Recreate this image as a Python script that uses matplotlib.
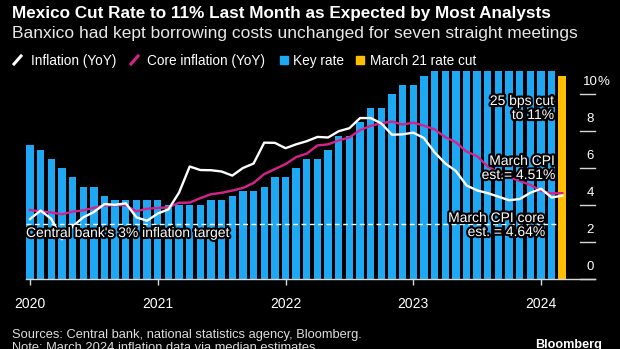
import numpy as np
import matplotlib
matplotlib.use("Agg")
import matplotlib.pyplot as plt
import matplotlib.patheffects as pe
from matplotlib.lines import Line2D
from matplotlib.patches import Rectangle

plt.rcParams['font.family'] = ['Liberation Sans', 'DejaVu Sans']

# ---- data (monthly, Jan 2020 onward) ----
key_rate = [7.25, 7.00, 6.50, 6.00, 5.50, 5.00, 5.00, 4.50, 4.25, 4.25, 4.25, 4.25,
            4.25, 4.00, 4.00, 4.00, 4.00, 4.25, 4.25, 4.50, 4.75, 4.75, 5.00, 5.50,
            5.50, 6.00, 6.50, 6.50, 7.00, 7.75, 7.75, 8.50, 9.25, 9.25, 10.00, 10.50,
            10.50, 11.00, 11.25, 11.25, 11.25, 11.25, 11.25, 11.25, 11.25, 11.25, 11.25, 11.25,
            11.25, 11.25]
march_cut = [11.00]
inflation = [3.24, 3.70, 3.25, 2.15, 2.84, 3.33, 3.62, 4.05, 4.01, 4.09, 3.33, 3.15,
             3.54, 3.76, 4.67, 6.08, 5.89, 5.88, 5.81, 5.59, 6.00, 6.24, 7.37, 7.36,
             7.07, 7.28, 7.45, 7.68, 7.65, 7.99, 8.15, 8.70, 8.70, 8.41, 7.80, 7.82,
             7.91, 7.62, 6.85, 6.25, 5.84, 5.06, 4.79, 4.64, 4.45, 4.26, 4.32, 4.66,
             4.88, 4.40, 4.51]
core = [3.73, 3.66, 3.60, 3.50, 3.64, 3.71, 3.85, 3.97, 3.99, 3.98, 3.66, 3.80,
        3.84, 3.87, 4.12, 4.13, 4.37, 4.58, 4.66, 4.78, 4.92, 5.19, 5.67, 5.94,
        6.21, 6.59, 6.78, 7.22, 7.28, 7.49, 7.65, 8.05, 8.28, 8.42, 8.51, 8.35,
        8.45, 8.29, 8.09, 7.67, 7.39, 6.89, 6.64, 6.08, 5.76, 5.50, 5.30, 5.09,
        4.76, 4.63, 4.64]
target = 3.0
year_labels = ["2020", "2021", "2022", "2023", "2024"]
y_ticks = [0, 2, 4, 6, 8, 10]

BLUE = '#1EA7F2'
MAGENTA = '#D9218C'
YELLOW = '#FFBF00'
W, H = 620, 349

fig = plt.figure(figsize=(W / 100, H / 100), dpi=100, facecolor='black')

def fx(x):
    return x / W

def fy(y):
    return 1 - y / H

# axes in pixel geometry
px_left, px_right, px_bottom, px_top = 26, 595, 279, 65
px_per_month = 10.646
px_per_unit = 18.5
ax = fig.add_axes([fx(px_left), fy(px_bottom), (px_right - px_left) / W, (px_bottom - px_top) / H])
ax.set_facecolor('black')
x0 = (px_left - 30) / px_per_month
x1 = (px_right - 30) / px_per_month
ax.set_xlim(x0, x1)
ax.set_ylim(0, (px_bottom - px_top) / px_per_unit)

n_rate = len(key_rate)
xr = np.arange(n_rate)
ax.bar(xr, key_rate, width=0.69, color=BLUE, zorder=2)
ax.bar([n_rate], march_cut, width=0.72, color=YELLOW, zorder=2)

# 3% target
ax.plot([x0, n_rate - 0.6], [target, target], color='white', lw=1.0,
        dashes=(3.5, 2.5), zorder=3)

xl = np.arange(len(inflation))
ax.plot(xl, core, color=MAGENTA, lw=1.7, zorder=4, solid_joinstyle='round')
ax.plot(xl, inflation, color='white', lw=1.7, zorder=5, solid_joinstyle='round')

# spines / ticks
for s in ['top', 'right', 'left']:
    ax.spines[s].set_visible(False)
ax.spines['bottom'].set_color('#d8d8d8')
ax.spines['bottom'].set_linewidth(1.0)
ax.set_yticks([])
ax.set_xticks([12 * i for i in range(len(year_labels))])
ax.set_xticklabels(year_labels)
ax.tick_params(axis='x', colors='#d8d8d8', length=4, width=1, labelsize=10,
               labelcolor='white', pad=9)

# right-side tick segments and labels
seg_x0 = (580 - 30) / px_per_month
lab_x = (590.5 - 30) / px_per_month
for v in y_ticks:
    ax.plot([seg_x0, x1], [v, v], color='#d8d8d8', lw=1.0, clip_on=False, zorder=6)
    ax.text(lab_x, v + 12 / px_per_unit, str(v), color='white', fontsize=9.5,
            ha='center', va='center', zorder=7)
ax.text(lab_x + 0.62, 10 + 12 / px_per_unit, '%', color='white', fontsize=9.5,
        ha='left', va='center', zorder=7)

stroke = [pe.withStroke(linewidth=3, foreground='black')]

def ann(xp, yp, s, ha='right'):
    fig.text(fx(xp), fy(yp), s, color='white', fontsize=10, ha=ha, va='center',
             linespacing=1.0, path_effects=stroke, zorder=10)

ann(554, 108, "25 bps cut\nto 11%")
ann(555, 168, "March CPI\nest.= 4.51%")
ann(545, 225, "March CPI core\nest. = 4.64%")
ann(26, 233, "Central bank's 3% inflation target", ha='left')

# title / subtitle
fig.text(fx(12), fy(18), "Mexico Cut Rate to 11% Last Month as Expected by Most Analysts",
         color='white', fontsize=12.3, fontweight='bold', va='baseline', ha='left')
fig.text(fx(12), fy(38), "Banxico had kept borrowing costs unchanged for seven straight meetings",
         color='#e8e8e8', fontsize=12.5, va='baseline', ha='left')

# legend
ly = 65
fig.add_artist(Line2D([fx(14), fx(21)], [fy(64), fy(56)], color='white', lw=2.2,
                      transform=fig.transFigure))
fig.text(fx(31), fy(ly), "Inflation (YoY)", color='white', fontsize=9.8, va='baseline')
fig.add_artist(Line2D([fx(131), fx(138)], [fy(64), fy(56)], color=MAGENTA, lw=2.2,
                      transform=fig.transFigure))
fig.text(fx(147), fy(ly), "Core inflation (YoY)", color='white', fontsize=9.8, va='baseline')
fig.add_artist(Rectangle((fx(280), fy(64)), 8 / W, 8 / H, color=BLUE,
                         transform=fig.transFigure))
fig.text(fx(293), fy(ly), "Key rate", color='white', fontsize=9.8, va='baseline')
fig.add_artist(Rectangle((fx(356), fy(64)), 8 / W, 8 / H, color=YELLOW,
                         transform=fig.transFigure))
fig.text(fx(370), fy(ly), "March 21 rate cut", color='white', fontsize=9.8, va='baseline')

# footer (the reference crops the last line at the bottom edge)
fig.text(fx(12), fy(335), "Sources: Central bank, national statistics agency, Bloomberg.",
         color='#dddddd', fontsize=9.3, va='center')
fig.text(fx(12), fy(348), "Note: March 2024 inflation data via median estimates",
         color='#dddddd', fontsize=9.3, va='center')
fig.text(fx(602), fy(345), "Bloomberg", color='white', fontsize=9.1, fontweight='bold',
         ha='right', va='center')

fig.savefig('out.png', dpi=100, facecolor='black')
